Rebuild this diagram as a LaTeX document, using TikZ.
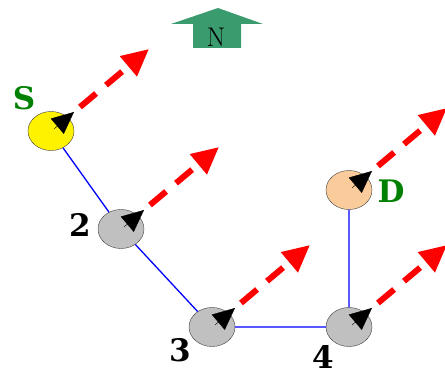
\documentclass[tikz,border=0pt]{standalone}
\usepackage{fontspec}
\newfontfamily\tagfont{DejaVu Serif}
\usetikzlibrary{arrows.meta,shapes.geometric,positioning}
\definecolor{peach}{RGB}{251,204,155}
\definecolor{nodegray}{RGB}{192,192,192}
\definecolor{compassgreen}{RGB}{58,155,110}
\definecolor{taggreen}{RGB}{0,128,0}
\tikzset{
	sensor/.style={
		ellipse, minimum width=46pt, minimum height=39pt, inner sep=0pt,
		draw=black!75, thin, fill=nodegray
	},
	%
	tag/.style={
		font=\tagfont\bfseries\fontsize{31}{31}\selectfont, inner sep=0pt
	},
	%
	hop/.style={draw=blue, line width=1.3pt},
	%
	heading/.style={
		draw=red, line width=6pt, dash pattern=on 21pt off 13pt,
		-{Triangle[length=27pt,width=25pt]}
	},
	%
	pointer/.style={
		draw=black, line width=0.4pt, -{Triangle[length=22pt,width=20pt]}
	}
}

\begin{document}
\begin{tikzpicture}[x=1pt,y=-1pt]
\useasboundingbox (0,0) rectangle (445,371);

%north sign
\fill[compassgreen] (171,24) -- (218,8) -- (263,24) -- (241,24) -- (241,48) -- (193,48) -- (193,24) -- cycle;
\node (north) at (216,37) {\fontsize{27}{27}\selectfont N};

%sensors
\node (S) [sensor, fill=yellow] at (51,131) {};
\node (n2) [sensor] at (121,229) {};
\node (n3) [sensor] at (212,327) {};
\node (n4) [sensor] at (349,327) {};
\node (D) [sensor, fill=peach] at (349,190) {};

%route
\draw[hop] (S) -- (n2) -- (n3) -- (n4) -- (D);

%headings
\foreach \n in {S,n2,n3,n4,D}{
	\draw[pointer] (\n.center) ++(3,-2) -- ++(20,-17);
	\draw[heading] (\n.center) ++(29,-24) -- ++(69,-58);
}

%labels
\node (Stag) [tag, text=taggreen] at (24,98) {S};
\node (n2tag) [tag] at (80,225) {2};
\node (n3tag) [tag] at (180,350) {3};
\node (n4tag) [tag] at (323,357) {4};
\node (Dtag) [tag, text=taggreen] at (391,191) {D};

\end{tikzpicture}
\end{document}
